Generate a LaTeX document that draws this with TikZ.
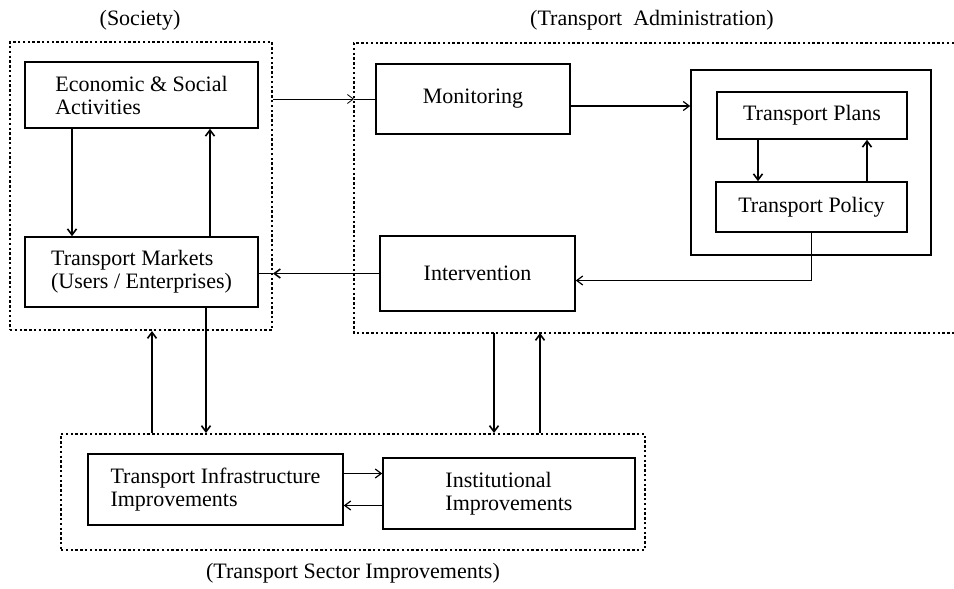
\documentclass[tikz,border=0pt]{standalone}
\usepackage{fontspec}
\setmainfont{Liberation Serif}
\usetikzlibrary{arrows.meta}

\begin{document}
\begin{tikzpicture}[x = 1pt, y = -1pt,
  every node/.style = {font = \fontsize{22}{23}\selectfont},
  box/.style = {draw, line width = 1.6pt, align = left, inner sep = 0pt},
  group/.style = {draw, line width = 2pt, dash pattern = on 2.4pt off 2.4pt},
  arr/.style = {line width = 1.6pt, -{Straight Barb[length = 6pt, width = 9pt]}},
  link/.style = {line width = 1.2pt}]
\useasboundingbox (0, 0) rectangle (954, 589);

% Society
\node (societylabel) at (140, 20) {(Society)};
\node (society) at (141, 186) [group, minimum width = 262pt, minimum height = 288pt] {};
\node (econ) at (141.5, 95) [box, minimum width = 233pt, minimum height = 66pt]
  {Economic \& Social\\Activities};
\node (markets) at (141.5, 272) [box, minimum width = 233pt, minimum height = 70pt]
  {Transport Markets\\(Users / Enterprises)};
\draw[arr] ([xshift = -69.5pt]econ.south) -- ([xshift = -69.5pt]markets.north);
\draw[arr] ([xshift = 68.5pt]markets.north) -- ([xshift = 68.5pt]econ.south);

% Transport administration (open to the right)
\node (adminlabel) at (652, 20) {(Transport~~Administration)};
\coordinate (adminNW) at (354, 43);
\coordinate (adminSW) at (354, 333);
\draw[group] (954, 43) -- (adminNW) -- (adminSW) -- (954, 333);
\node (monitor) at (473, 99) [box, minimum width = 194pt, minimum height = 70pt] {Monitoring};
\node (interv) at (477.5, 273.5) [box, minimum width = 195pt, minimum height = 75pt] {Intervention};
\node (plansframe) at (811, 162.5) [box, minimum width = 240pt, minimum height = 185pt] {};
\node (plans) at (812, 115.5) [box, minimum width = 190pt, minimum height = 47pt] {Transport Plans};
\node (policy) at (811.5, 207) [box, minimum width = 191pt, minimum height = 50pt] {Transport Policy};
\draw[arr] ([xshift = -54pt]plans.south) -- ([xshift = -54pt]plans.south |- policy.north);
\draw[arr] ([xshift = 55pt]plans.south |- policy.north) -- ([xshift = 55pt]plans.south);
\draw[arr, link] ([yshift = -7pt]monitor.east) -- ([yshift = -7pt]monitor.east -| plansframe.west);
\draw[arr, link] (policy.south) |- ([yshift = -7pt]interv.east);

% Society <-> administration
\draw[arr, line width = 0.8pt] (society.east |- monitor.west) -- (adminNW |- monitor.west);
\draw[line width = 0.8pt] (adminNW |- monitor.west) -- (monitor.west);
\draw[arr] (interv.west) -- (society.east |- interv.west);
\draw[line width = 1.6pt] (society.east |- interv.west) -- (markets.east |- interv.west);

% Transport sector improvements
\node (sector) at (353, 492) [group, minimum width = 584pt, minimum height = 116pt] {};
\node (sectorlabel) at (353, 573) {(Transport Sector Improvements)};
\node (infra) at (215.5, 489.5) [box, minimum width = 255pt, minimum height = 71pt]
  {Transport Infrastructure\\Improvements};
\node (instit) at (509, 493.5) [box, minimum width = 252pt, minimum height = 71pt]
  {Institutional\\Improvements};
\draw[arr, link] ([yshift = 16pt]infra.east) -- ([yshift = 16pt]infra.east -| instit.west);
\draw[arr, link] ([yshift = -16pt]infra.east -| instit.west) -- ([yshift = -16pt]infra.east);

% links to the sector box
\draw[arr] ([xshift = 64.5pt]markets.south) -- ([xshift = 64.5pt]markets.south |- sector.north);
\draw[arr] ([xshift = 10.5pt]markets.south |- sector.north) -- ([xshift = 10.5pt]markets.south |- society.south);
\draw[arr] ([xshift = 16.5pt]interv.south |- adminSW) -- ([xshift = 16.5pt]interv.south |- sector.north);
\draw[arr] ([xshift = 62.5pt]interv.south |- sector.north) -- ([xshift = 62.5pt]interv.south |- adminSW);
\end{tikzpicture}
\end{document}
